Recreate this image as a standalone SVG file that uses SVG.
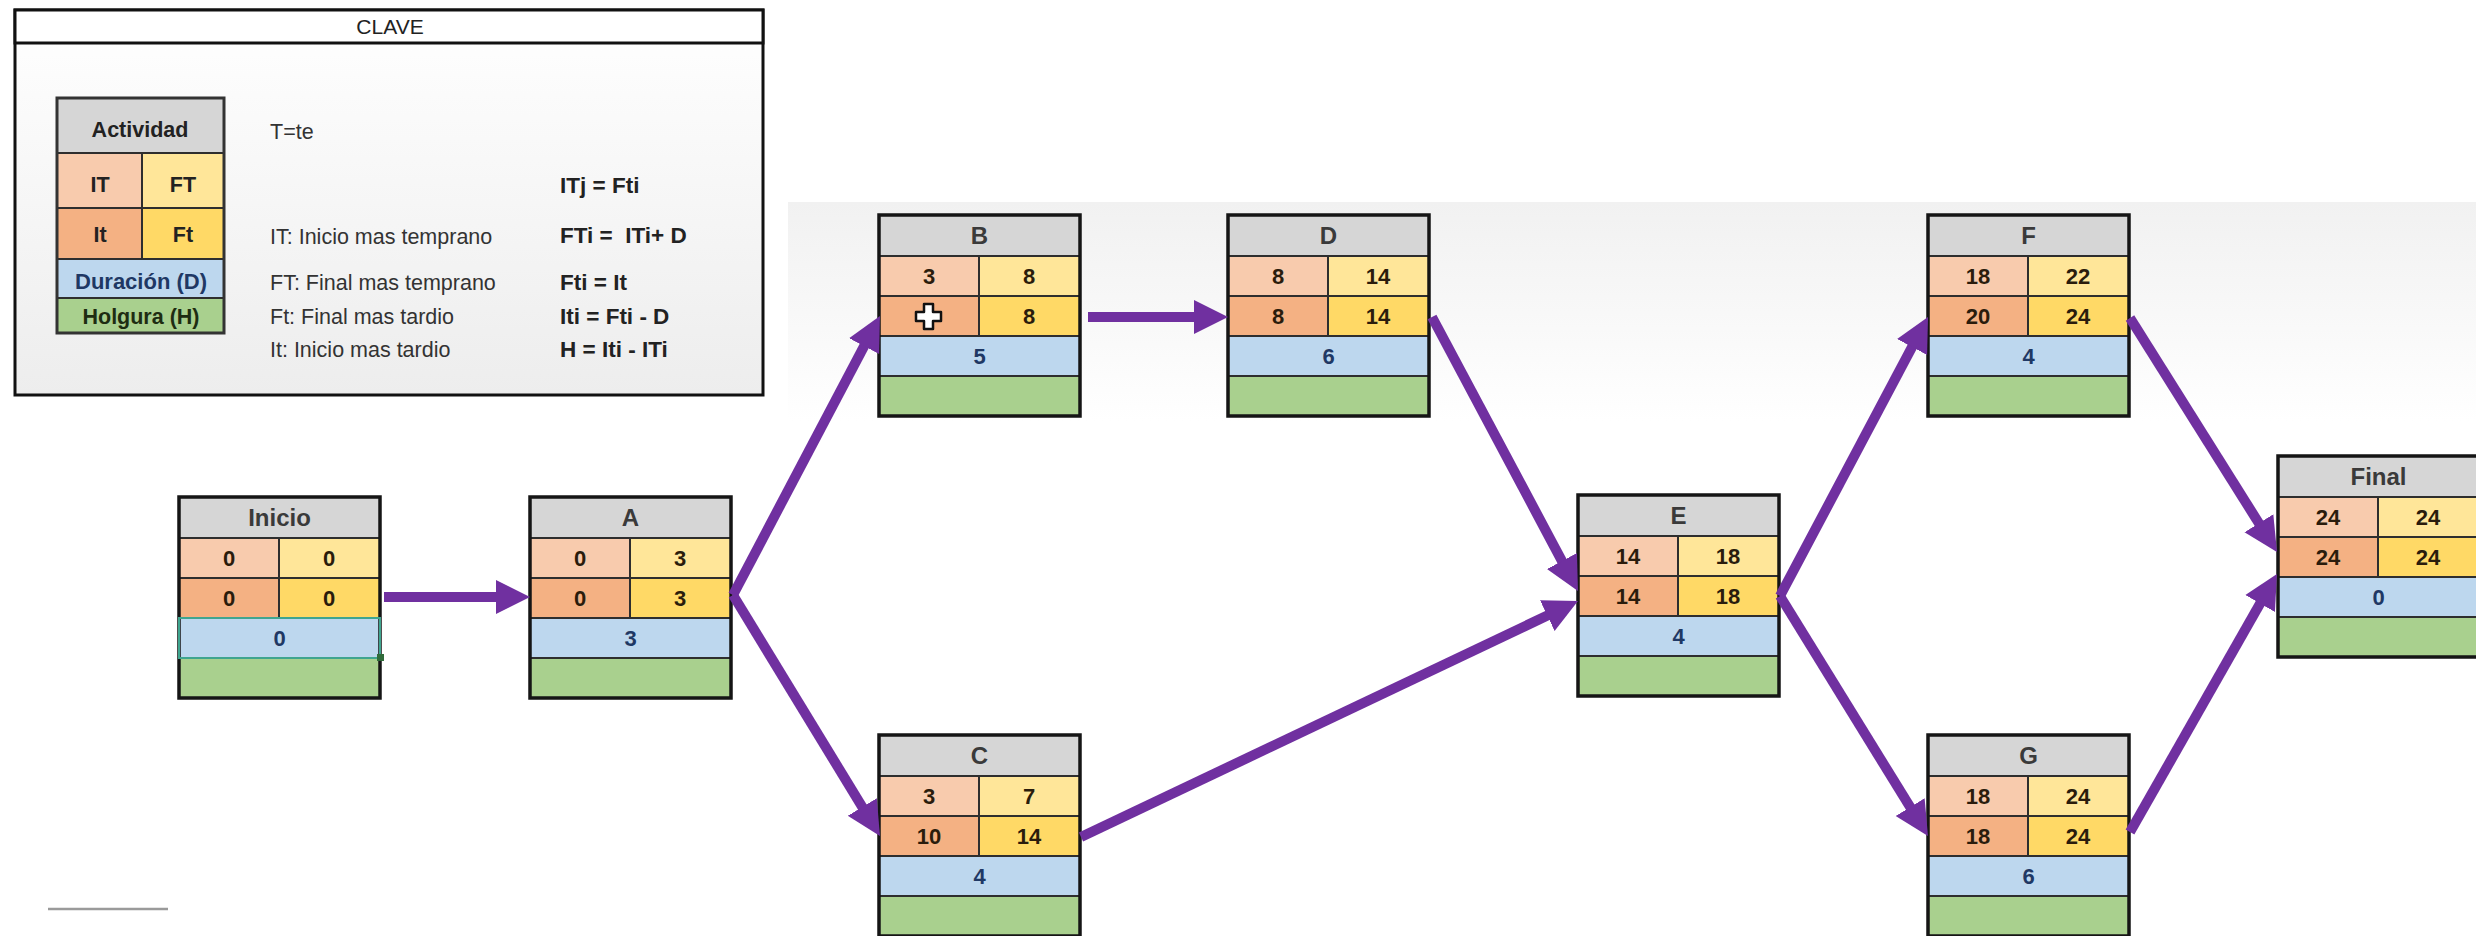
<svg xmlns="http://www.w3.org/2000/svg" width="2476" height="936" viewBox="0 0 2476 936">
<style>
.hdr{fill:#d6d6d6}.it{fill:#f8cbad}.ft{fill:#ffe699}.lt{fill:#f4b183}.lf{fill:#ffd966}.du{fill:#bdd7ee}.ho{fill:#a9d08e}
.frame{fill:none;stroke:#151515;stroke-width:3.5}
.ln{stroke:#2e2e2e;stroke-width:2}
.t{font-family:"Liberation Sans",Arial,sans-serif;font-weight:bold;font-size:22px;text-anchor:middle;fill:#2a1c0c}
.th{font-size:24px;fill:#3a3a3a}
.td{fill:#1f3864}
.conn{stroke:#7030A0;stroke-width:10;fill:none;marker-end:url(#ah)}
.k{font-family:"Liberation Sans",Arial,sans-serif;font-size:21.5px;fill:#333}
.kb{font-weight:bold;fill:#222}
.kc{text-anchor:middle}
</style>
<defs>
<linearGradient id="bg" x1="0" y1="0" x2="0" y2="1"><stop offset="0" stop-color="#f1f1f1"/><stop offset="1" stop-color="#ffffff"/></linearGradient>
<linearGradient id="kbg" x1="0" y1="0" x2="0" y2="1"><stop offset="0" stop-color="#ffffff"/><stop offset="1" stop-color="#ededed"/></linearGradient>
<marker id="ah" markerUnits="userSpaceOnUse" markerWidth="40" markerHeight="40" viewBox="0 0 40 40" refX="6" refY="20" orient="auto"><path d="M0,3 L34,20 L0,37 z" fill="#7030A0"/></marker>
<g id="tpl">
<rect class="hdr" x="0" y="0" width="201" height="41"/>
<rect class="it" x="0" y="41" width="100" height="40"/><rect class="ft" x="100" y="41" width="101" height="40"/>
<rect class="lt" x="0" y="81" width="100" height="40"/><rect class="lf" x="100" y="81" width="101" height="40"/>
<rect class="du" x="0" y="121" width="201" height="40"/>
<rect class="ho" x="0" y="161" width="201" height="40"/>
<path class="ln" d="M0,41H201M0,81H201M0,121H201M0,161H201M100,41V121"/>
<rect class="frame" x="0" y="0" width="201" height="201"/>
</g>
</defs>
<rect x="0" y="0" width="2476" height="936" fill="#ffffff"/>
<rect x="788" y="202" width="1688" height="220" fill="url(#bg)"/>
<line x1="48" y1="909" x2="168" y2="909" stroke="#9a9a9a" stroke-width="2.5"/>

<g id="clave">
<rect x="15" y="10" width="748" height="385" fill="url(#kbg)" stroke="#111" stroke-width="3"/>
<rect x="15" y="10" width="748" height="33" fill="#ffffff" stroke="#111" stroke-width="3"/>
<text x="390" y="34" font-family="Liberation Sans, Arial, sans-serif" font-size="21" fill="#222" text-anchor="middle">CLAVE</text>
<rect class="hdr" x="57" y="98" width="167" height="55"/>
<rect class="it" x="57" y="153" width="85" height="55"/><rect class="ft" x="142" y="153" width="82" height="55"/>
<rect class="lt" x="57" y="208" width="85" height="51"/><rect class="lf" x="142" y="208" width="82" height="51"/>
<rect class="du" x="57" y="259" width="167" height="39"/>
<rect class="ho" x="57" y="298" width="167" height="35"/>
<path class="ln" d="M57,153H224M57,208H224M57,259H224M57,298H224M142,153V259"/>
<rect x="57" y="98" width="167" height="235" fill="none" stroke="#333" stroke-width="3"/>
<text class="k kb kc" x="140" y="137">Actividad</text>
<text class="k kb kc" x="100" y="192">IT</text>
<text class="k kb kc" x="183" y="192">FT</text>
<text class="k kb kc" x="100" y="242">It</text>
<text class="k kb kc" x="183" y="242">Ft</text>
<text class="k kb kc" x="141" y="289" style="fill:#1f3864;font-size:22px">Duración (D)</text>
<text class="k kb kc" x="141" y="324" style="fill:#1e2d12">Holgura (H)</text>
<text class="k" x="270" y="139">T=te</text>
<text class="k kb" x="560" y="193" style="font-size:22.5px">ITj = Fti</text>
<text class="k" x="270" y="244">IT: Inicio mas temprano</text>
<text class="k kb" x="560" y="243" style="white-space:pre;font-size:22.5px">FTi =  ITi+ D</text>
<text class="k" x="270" y="290">FT: Final mas temprano</text>
<text class="k kb" x="560" y="290" style="font-size:22.5px">Fti = It</text>
<text class="k" x="270" y="324">Ft: Final mas tardio</text>
<text class="k kb" x="560" y="324" style="font-size:22.5px">Iti = Fti - D</text>
<text class="k" x="270" y="357">It: Inicio mas tardio</text>
<text class="k kb" x="560" y="357" style="font-size:22.5px">H = Iti - ITi</text>
</g>

<g id="node-inicio" transform="translate(179,497)">
<use href="#tpl"/>
<rect x="0" y="121" width="201" height="40" fill="none" stroke="#3fa58f" stroke-width="2"/>
<rect x="198" y="157" width="7" height="7" fill="#2f6b3a"/>
<text class="t th" x="100.5" y="29">Inicio</text>
<text class="t" x="50" y="69">0</text><text class="t" x="150" y="69">0</text>
<text class="t" x="50" y="109">0</text><text class="t" x="150" y="109">0</text>
<text class="t td" x="100.5" y="149">0</text>
</g>
<g id="node-a" transform="translate(530,497)">
<use href="#tpl"/>
<text class="t th" x="100.5" y="29">A</text>
<text class="t" x="50" y="69">0</text><text class="t" x="150" y="69">3</text>
<text class="t" x="50" y="109">0</text><text class="t" x="150" y="109">3</text>
<text class="t td" x="100.5" y="149">3</text>
</g>
<g id="node-b" transform="translate(879,215)">
<use href="#tpl"/>
<text class="t th" x="100.5" y="29">B</text>
<text class="t" x="50" y="69">3</text><text class="t" x="150" y="69">8</text>
<path d="M45,89h9v8h8v9h-8v8h-9v-8h-8v-9h8z" fill="#ffffff" stroke="#111" stroke-width="2.5" stroke-linejoin="round"/>
<text class="t" x="150" y="109">8</text>
<text class="t td" x="100.5" y="149">5</text>
</g>
<g id="node-d" transform="translate(1228,215)">
<use href="#tpl"/>
<text class="t th" x="100.5" y="29">D</text>
<text class="t" x="50" y="69">8</text><text class="t" x="150" y="69">14</text>
<text class="t" x="50" y="109">8</text><text class="t" x="150" y="109">14</text>
<text class="t td" x="100.5" y="149">6</text>
</g>
<g id="node-c" transform="translate(879,735)">
<use href="#tpl"/>
<text class="t th" x="100.5" y="29">C</text>
<text class="t" x="50" y="69">3</text><text class="t" x="150" y="69">7</text>
<text class="t" x="50" y="109">10</text><text class="t" x="150" y="109">14</text>
<text class="t td" x="100.5" y="149">4</text>
</g>
<g id="node-e" transform="translate(1578,495)">
<use href="#tpl"/>
<text class="t th" x="100.5" y="29">E</text>
<text class="t" x="50" y="69">14</text><text class="t" x="150" y="69">18</text>
<text class="t" x="50" y="109">14</text><text class="t" x="150" y="109">18</text>
<text class="t td" x="100.5" y="149">4</text>
</g>
<g id="node-f" transform="translate(1928,215)">
<use href="#tpl"/>
<text class="t th" x="100.5" y="29">F</text>
<text class="t" x="50" y="69">18</text><text class="t" x="150" y="69">22</text>
<text class="t" x="50" y="109">20</text><text class="t" x="150" y="109">24</text>
<text class="t td" x="100.5" y="149">4</text>
</g>
<g id="node-g" transform="translate(1928,735)">
<use href="#tpl"/>
<text class="t th" x="100.5" y="29">G</text>
<text class="t" x="50" y="69">18</text><text class="t" x="150" y="69">24</text>
<text class="t" x="50" y="109">18</text><text class="t" x="150" y="109">24</text>
<text class="t td" x="100.5" y="149">6</text>
</g>
<g id="node-final" transform="translate(2278,456)">
<use href="#tpl"/>
<text class="t th" x="100.5" y="29">Final</text>
<text class="t" x="50" y="69">24</text><text class="t" x="150" y="69">24</text>
<text class="t" x="50" y="109">24</text><text class="t" x="150" y="109">24</text>
<text class="t td" x="100.5" y="149">0</text>
</g>

<g id="connectors">
<line class="conn" x1="384" y1="597" x2="502" y2="597"/>
<line class="conn" x1="733" y1="595" x2="866.9" y2="340.8"/>
<line class="conn" x1="733" y1="595" x2="865.4" y2="812.1"/>
<line class="conn" x1="1088" y1="317" x2="1200" y2="317"/>
<line class="conn" x1="1432" y1="317" x2="1564.8" y2="566.3"/>
<line class="conn" x1="1081" y1="837" x2="1552.7" y2="613"/>
<line class="conn" x1="1780" y1="596" x2="1914.9" y2="341.7"/>
<line class="conn" x1="1780" y1="596" x2="1913.3" y2="812.2"/>
<line class="conn" x1="2130" y1="318" x2="2262.1" y2="528.3"/>
<line class="conn" x1="2130" y1="832" x2="2263.1" y2="598.3"/>
</g>
</svg>
